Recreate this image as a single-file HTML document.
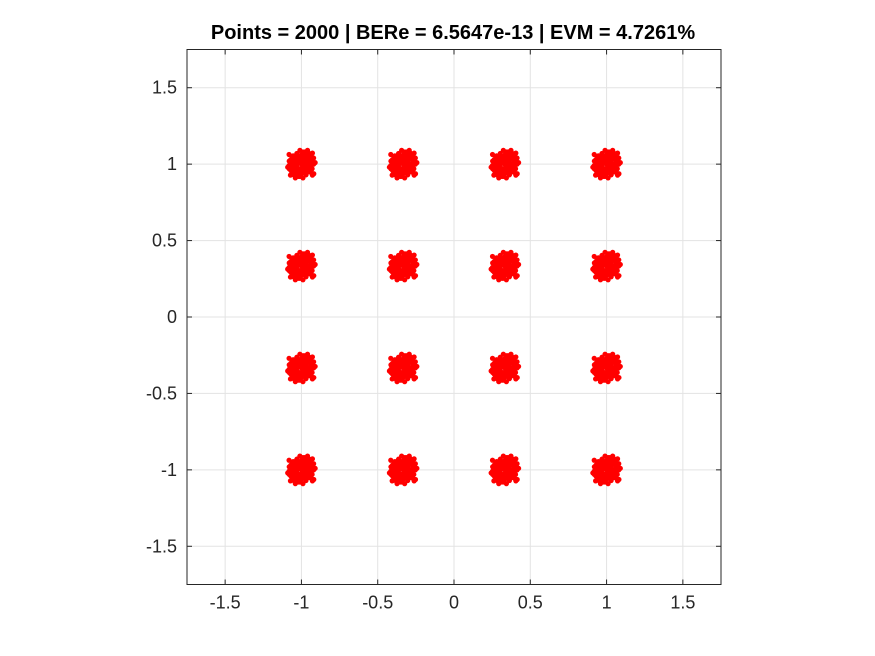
<!DOCTYPE html>
<html><head><meta charset="utf-8"><style>
html,body{margin:0;padding:0;background:#fff;}
svg{display:block;font-family:"Liberation Sans",Arial,sans-serif;}
</style></head><body>
<svg id="chart" width="875" height="656" viewBox="0 0 875 656">
<rect width="875" height="656" fill="#fff"/>
<text x="453" y="39" text-anchor="middle" font-size="20" font-weight="bold" fill="#000">Points = 2000 | BERe = 6.5647e-13 | EVM = 4.7261%</text>
<g id="grid"></g>
<g id="points"></g>
<rect x="187" y="49.5" width="534" height="535" fill="none" stroke="#262626" stroke-width="1"/>
<g id="ticks"></g>
</svg>
<script>
const levels = [-1, -1/3, 1/3, 1];
const xTicks = [-1.5, -1, -0.5, 0, 0.5, 1, 1.5];
const yTicks = [-1.5, -1, -0.5, 0, 0.5, 1, 1.5];
const tickLabels = ["-1.5", "-1", "-0.5", "0", "0.5", "1", "1.5"];
const offX = [0,0.03,-0.03,0.05,-0.05,0.07,-0.07,0.02,-0.02,0.04,-0.04,0.06,-0.06,0.01,-0.01,0.03,-0.03,0.05,-0.05,0.08,-0.08,0.02,-0.02,0.04,-0.04,0.0,0.06,-0.06,0.03,-0.03,0.01,-0.01,0.05,-0.05,0.07,-0.07,0.02,-0.02,0.0,0.04,-0.04,0.09,-0.09,0.03,-0.03,0.06,-0.06,0.01,-0.01,0.05,-0.05,0.02,-0.02,0.0,0.07,-0.07,0.04,-0.04,0.08,-0.08];
const offY = [0,0.02,-0.02,0.04,-0.04,0.01,-0.01,0.06,-0.06,-0.03,0.03,-0.05,0.05,0.08,-0.08,-0.06,0.06,0.07,-0.07,0.0,0.02,-0.04,0.04,0.09,-0.09,0.05,-0.02,0.02,-0.07,0.07,0.03,-0.03,-0.05,0.05,0.04,-0.04,0.0,0.01,-0.06,0.07,-0.07,0.01,-0.02,0.03,-0.03,0.06,-0.06,-0.09,0.09,0.0,0.01,0.08,-0.08,0.06,-0.03,0.03,-0.01,0.02,0.04,-0.03];
const xMin=-1.75,xMax=1.75,yMin=-1.75,yMax=1.75;
const L=187,R=721,T=49.5,B=584.5;
const sx=v=>L+(v-xMin)/(xMax-xMin)*(R-L);
const sy=v=>B-(v-yMin)/(yMax-yMin)*(B-T);
const NS="http://www.w3.org/2000/svg";
const grid=document.getElementById('grid'),ticks=document.getElementById('ticks'),pts=document.getElementById('points');
function mk(tag,attrs,parent){const e=document.createElementNS(NS,tag);for(const k in attrs)e.setAttribute(k,attrs[k]);parent.appendChild(e);return e;}
xTicks.forEach((v,i)=>{
  const gl=mk('line',{x1:sx(v),x2:sx(v),y1:T,y2:B,stroke:'#e3e3e3','stroke-width':1},grid);
  
  
  mk('line',{x1:sx(v),x2:sx(v),y1:B,y2:B-5,stroke:'#262626'},ticks);
  mk('line',{x1:sx(v),x2:sx(v),y1:T,y2:T+5,stroke:'#262626'},ticks);
  const t=mk('text',{x:sx(v),y:B+24,'text-anchor':'middle','font-size':18,fill:'#262626'},ticks);
  t.textContent=tickLabels[i];
  
  
});
yTicks.forEach((v,i)=>{
  const gl=mk('line',{x1:L,x2:R,y1:sy(v),y2:sy(v),stroke:'#e3e3e3','stroke-width':1},grid);
  
  
  mk('line',{x1:L,x2:L+5,y1:sy(v),y2:sy(v),stroke:'#262626'},ticks);
  mk('line',{x1:R,x2:R-5,y1:sy(v),y2:sy(v),stroke:'#262626'},ticks);
  const t=mk('text',{x:L-10,y:sy(v)+6,'text-anchor':'end','font-size':18,fill:'#262626'},ticks);
  t.textContent=tickLabels[i];
  
  
});
levels.forEach(ci=>levels.forEach(cq=>{
  const g=mk('g',{fill:'#ff0000'},pts);
  
  
  for(let k=0;k<offX.length;k++){
    for(let m=0;m<2;m++){
      const ox=m?offY[k]*0.9:offX[k], oy=m?offX[(k+7)%offX.length]*0.9:offY[k];
      mk('circle',{cx:sx(ci+ox),cy:sy(cq+oy),r:2.6},g);
    }
  }
}));
</script>
</body></html>
